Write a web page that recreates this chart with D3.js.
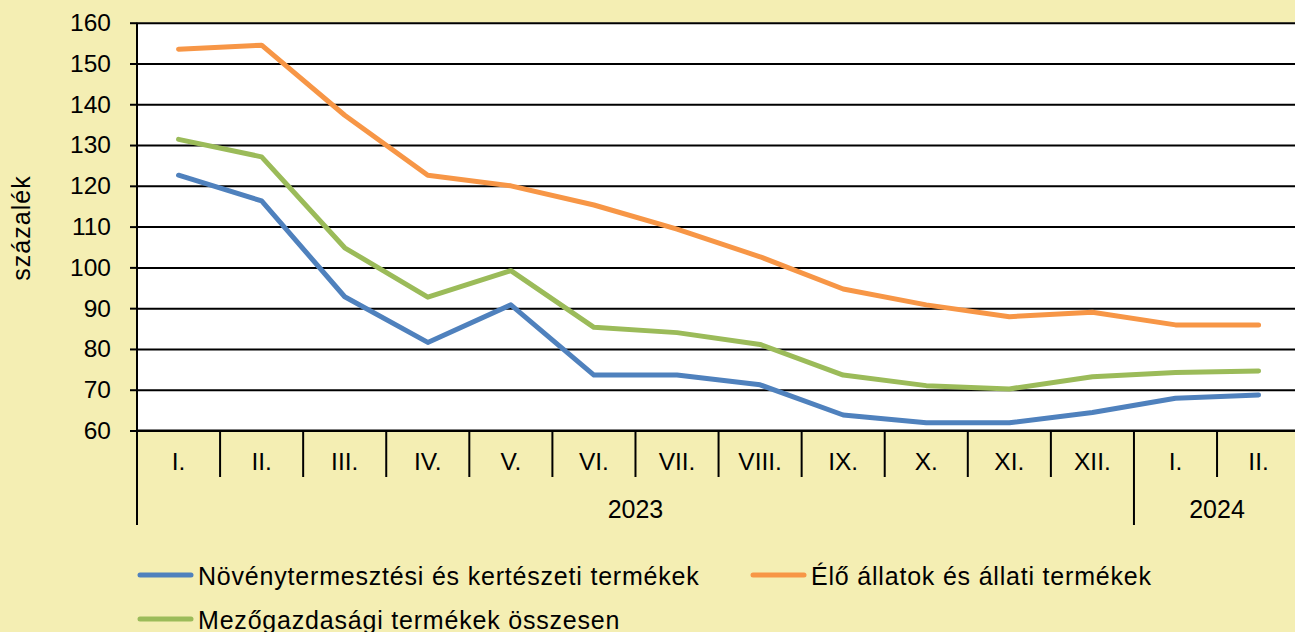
<!DOCTYPE html>
<html>
<head>
<meta charset="utf-8">
<script src="https://cdn.jsdelivr.net/npm/d3@7"></script>
<style>
	body { margin: 0; background: #f4eeb3; }
	svg { display: block; font-family: "Liberation Sans", Arial, sans-serif; }
</style>
</head>
<body>
<div id="chart"></div>
<script>

///////////////////////////////////////////////////////////////////////
// data

const months = [ "I.", "II.", "III.", "IV.", "V.", "VI.", "VII.", "VIII.", "IX.", "X.", "XI.", "XII.", "I.", "II." ];
const years = [ { label: "2023", from: 0, to: 12 }, { label: "2024", from: 12, to: 14 } ];
const y_ticks = [ 60, 70, 80, 90, 100, 110, 120, 130, 140, 150, 160 ];

const noveny = [ 122.6, 116.3, 92.8, 81.6, 90.8, 73.6, 73.6, 71.2, 63.8, 61.9, 61.9, 64.4, 67.9, 68.7 ];
const allat = [ 153.5, 154.5, 137.3, 122.6, 120.0, 115.3, 109.4, 102.6, 94.7, 90.8, 87.9, 89.0, 85.9, 85.9 ];
const osszes = [ 131.4, 127.1, 104.8, 92.7, 99.2, 85.3, 84.0, 81.1, 73.6, 71.0, 70.2, 73.2, 74.2, 74.6 ];

const series = [
	{ name: "Növénytermesztési és kertészeti termékek", values: noveny, color: "#4f81bd" },
	{ name: "Élő állatok és állati termékek", values: allat, color: "#f79646" },
	{ name: "Mezőgazdasági termékek összesen", values: osszes, color: "#9bbb59" }
];

///////////////////////////////////////////////////////////////////////

const width = 1295, height = 632;
const plot_left = 137, plot_top = 22.7, plot_bottom = 430.5;
const step = 83.08;

let svg = d3.select( "#chart" )
	.append( "svg" )
	.attr( "width", width )
	.attr( "height", height );

let X_scale = d3.scaleBand()
	.domain( d3.range( months.length ) )
	.range( [ plot_left, plot_left + step * months.length ] )
	.padding( 0 );

let Y_scale = d3.scaleLinear()
	.domain( [ 60, 160 ] )
	.range( [ plot_bottom, plot_top ] );

// plot area
svg.append( "rect" )
	.attr( "x", plot_left )
	.attr( "y", plot_top )
	.attr( "width", step * months.length )
	.attr( "height", plot_bottom - plot_top )
	.attr( "fill", "#fff" );

// gridlines
svg.append( "g" )
	.attr( "transform", "translate(" + plot_left + ",0)" )
	.call( d3.axisLeft( Y_scale ).tickValues( y_ticks ).tickSize( -step * months.length ).tickFormat( "" ) )
	.call( g => g.select( ".domain" ).remove() )
	.call( g => g.selectAll( "line" ).attr( "stroke", "#000" ).attr( "stroke-width", 2 ) );

// y axis with labels
svg.append( "g" )
	.attr( "transform", "translate(" + plot_left + ",0)" )
	.call( d3.axisLeft( Y_scale ).tickValues( y_ticks ).tickSize( 7 ).tickSizeOuter( 0 ).tickPadding( 19 ) )
	.call( g => g.select( ".domain" ).attr( "stroke-width", 2 ).attr( "d", "M0," + plot_top + "V" + 525 ) )
	.call( g => g.selectAll( "line" ).attr( "stroke-width", 2 ) )
	.call( g => g.selectAll( "text" ).attr( "font-size", 24.5 ).attr( "fill", "#000" ).attr( "font-family", "Liberation Sans, Arial, sans-serif" ) );

svg.append( "text" )
	.attr( "transform", "translate(30," + 228 + ") rotate(-90)" )
	.attr( "text-anchor", "middle" )
	.attr( "font-size", 25 )
	.attr( "letter-spacing", 1 )
	.text( "százalék" );

// category separators
svg.append( "g" )
	.selectAll( "line" )
	.data( d3.range( 1, months.length ) )
	.join( "line" )
		.attr( "x1", d => X_scale( d ) )
		.attr( "x2", d => X_scale( d ) )
		.attr( "y1", plot_bottom )
		.attr( "y2", d => years.some( y => y.from === d ) ? 525 : 477 )
		.attr( "stroke", "#000" )
		.attr( "stroke-width", 2 );

svg.append( "line" )
	.attr( "x1", plot_left ).attr( "x2", plot_left + step * months.length )
	.attr( "y1", plot_bottom ).attr( "y2", plot_bottom )
	.attr( "stroke", "#000" ).attr( "stroke-width", 2 );

svg.append( "g" )
	.selectAll( "text" )
	.data( months )
	.join( "text" )
		.attr( "x", ( d, i ) => X_scale( i ) + X_scale.bandwidth() / 2 )
		.attr( "y", 470 )
		.attr( "text-anchor", "middle" )
		.attr( "font-size", 24.5 )
		.text( d => d );

svg.append( "g" )
	.selectAll( "text" )
	.data( years )
	.join( "text" )
		.attr( "x", d => ( X_scale( d.from ) + X_scale( d.to - 1 ) + step ) / 2 )
		.attr( "y", 518 )
		.attr( "text-anchor", "middle" )
		.attr( "font-size", 25 )
		.text( d => d.label );

// lines
let line = d3.line()
	.x( ( d, i ) => X_scale( i ) + X_scale.bandwidth() / 2 )
	.y( d => Y_scale( d ) );

svg.append( "g" )
	.selectAll( "path" )
	.data( series )
	.join( "path" )
		.attr( "d", d => line( d.values ) )
		.attr( "fill", "none" )
		.attr( "stroke", d => d.color )
		.attr( "stroke-width", 5 )
		.attr( "stroke-linecap", "round" )
		.attr( "stroke-linejoin", "round" );

// legend
const legend_pos = [ [ 138, 575 ], [ 751, 575 ], [ 138, 619 ] ];

let leg = svg.append( "g" )
	.selectAll( "g" )
	.data( series )
	.join( "g" )
		.attr( "transform", ( d, i ) => "translate(" + legend_pos[ i ][ 0 ] + "," + legend_pos[ i ][ 1 ] + ")" );

leg.append( "line" )
	.attr( "x1", 2 ).attr( "x2", 53 )
	.attr( "stroke", d => d.color )
	.attr( "stroke-width", 5 )
	.attr( "stroke-linecap", "round" );

leg.append( "text" )
	.attr( "x", 60 )
	.attr( "y", 9.5 )
	.attr( "font-size", 25 )
	.attr( "letter-spacing", 0.8 )
	.text( d => d.name );

</script>
</body>
</html>
